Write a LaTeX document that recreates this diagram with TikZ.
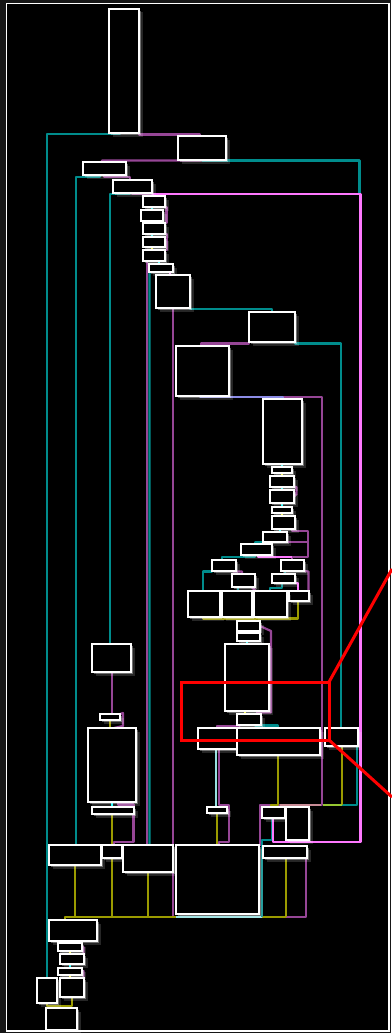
\documentclass[tikz,border=0pt]{standalone}
\usetikzlibrary{shadows}
\pgfdeclarelayer{back}\pgfdeclarelayer{edges}\pgfdeclarelayer{front}
\pgfsetlayers{back,edges,main,front}
\definecolor{cOut}{RGB}{22,22,22}
\definecolor{cTeal}{RGB}{0,140,140}
\definecolor{cPurp}{RGB}{150,70,150}
\definecolor{cPink}{RGB}{255,120,255}
\definecolor{cYel}{RGB}{155,155,0}
\definecolor{cLav}{RGB}{140,140,230}
\definecolor{cCy}{RGB}{0,255,255}
\definecolor{cYd}{RGB}{255,255,0}
\definecolor{cGrn}{RGB}{150,200,50}
\definecolor{cLcy}{RGB}{150,225,225}
\definecolor{cRose}{RGB}{200,140,150}
\tikzset{
  bx/.style={draw=white,line width=1.6pt,fill=black,inner sep=0pt,outer sep=0pt,
    drop shadow={shadow xshift=1.8pt,shadow yshift=-1.8pt,fill=white,opacity=0.35},
    drop shadow={shadow xshift=3.5pt,shadow yshift=-3.5pt,fill=white,opacity=0.15}},
  ed/.style={line width=2.2pt,line join=round},
  te/.style={ed,draw=cTeal},
  pu/.style={ed,draw=cPurp},
  pk/.style={ed,draw=cPink},
  ye/.style={ed,draw=cYel},
  lv/.style={ed,draw=cLav},
  cy/.style={ed,draw=cCy},
  yd/.style={ed,draw=cYd},
  gr/.style={ed,draw=cGrn},
  lc/.style={ed,draw=cLcy},
  ro/.style={ed,draw=cRose},
}
\newcommand\bx[5]{\node[bx,minimum width={(#4)-(#2)},minimum height={(#5)-(#3)}] (#1) at ({((#2)+(#4))/2},{((#3)+(#5))/2}) {};}
\begin{document}
\begin{tikzpicture}[x=1pt,y=-1pt]
\useasboundingbox (0,0) rectangle (391,1033);
\begin{pgfonlayer}{back}
\fill[cOut] (0,0) rectangle (391,1033);
\fill[black] (6.5,3.5) rectangle (389,1031);
\draw[white,line width=1.5pt] (6.5,3.5) rectangle (389,1031);
\end{pgfonlayer}
% boxes
\bx{A}{109}{9}{139}{133}
\bx{B}{178}{136}{226}{160}
\bx{C}{83}{162}{126}{175}
\bx{D}{113}{180}{152}{193}
\bx{E}{143}{196}{165}{207}
\bx{F}{141}{210}{163}{221}
\bx{G}{143}{223}{165}{234}
\bx{H}{143}{237}{165}{247}
\bx{I}{143}{250}{165}{261}
\bx{J}{149}{264}{173}{272}
\bx{K}{156}{275}{190}{308}
\bx{L}{249}{312}{295}{342}
\bx{M}{176}{346}{229}{396}
\bx{N}{263}{399}{302}{464}
\bx{O}{272}{467}{292}{473}
\bx{P}{270}{476}{294}{487}
\bx{Q}{270}{490}{294}{503}
\bx{R}{272}{507}{292}{513}
\bx{S}{272}{516}{295}{529}
\bx{T}{263}{532}{287}{542}
\bx{U}{241}{544}{272}{555}
\bx{V}{212}{560}{236}{571}
\bx{W}{281}{560}{304}{571}
\bx{X}{232}{574}{255}{587}
\bx{Y}{272}{574}{295}{583}
\bx{Z}{289}{591}{309}{601}
\bx{AA}{188}{591}{220}{617}
\bx{AB}{222}{591}{252}{617}
\bx{AC}{254}{591}{287}{617}
\bx{AD}{237}{621}{260}{631}
\bx{AE}{237}{633}{260}{641}
\bx{AF}{225}{644}{269}{711}
\bx{AG}{237}{714}{261}{725}
\bx{AH}{198}{728}{237}{749}
\bx{AI}{237}{728}{320}{755}
\bx{AJ}{325}{728}{358}{746}
\bx{AK}{92}{644}{131}{672}
\bx{AL}{100}{714}{120}{720}
\bx{AM}{88}{728}{136}{802}
\bx{AN}{92}{807}{134}{814}
\bx{AO}{207}{807}{227}{813}
\bx{AP}{262}{807}{285}{818}
\bx{AQ}{286}{807}{309}{840}
\bx{AR}{49}{845}{101}{865}
\bx{AS}{102}{845}{122}{858}
\bx{AT}{123}{845}{173}{872}
\bx{AU}{176}{845}{259}{914}
\bx{AV}{263}{846}{307}{858}
\bx{AW}{49}{920}{97}{941}
\bx{AX}{58}{943}{82}{951}
\bx{AY}{60}{954}{84}{964}
\bx{AZ}{58}{968}{82}{975}
\bx{BA}{60}{978}{84}{997}
\bx{BB}{37}{978}{57}{1003}
\bx{BC}{46}{1008}{77}{1030}
\begin{pgfonlayer}{edges}
% long teal edges
\draw[te] (A.south -| 120,0) -- (120,134) -- (47,134) -- (BB.north -| 47,0);
\draw[te] (B.south) -- (202,160.5) -- (359.5,160.5) -- (359.5,194);
\draw[te] (C.south -| 100,0) -- (100,177) -- (76,177) -- (AR.north -| 76,0);
\draw[te] (D.south -| 130,0) -- (130,194) -- (110,194) -- (AK.north -| 110,0);
\draw[te] (J.south -| 151,0) -- (149.5,272.5) -- (AT.north -| 149.5,0);
\draw[te] (K.south east) -- (190,309) -- (272,309) -- (L.north -| 272,0);
\draw[te] (L.south east) -- (295,343.5) -- (341,343.5) -- (AJ.north -| 341,0);
\draw[te] (T.south -| 266,0) -- (266,542.5) -- (255,542.5) -- (U.north -| 255,0);
\draw[te] (U.south -| 255,0) -- (255,557) -- (222,557) -- (V.north -| 222,0);
\draw[te] (V.south west) -- (212,571.5) -- (203,571.5) -- (AA.north -| 203,0);
\draw[te] (X.south -| 238,0) -- (AB.north -| 238,0);
\draw[te] (W.south -| 285,0) -- (Y.north -| 285,0);
\draw[te] (Y.south -| 282,0) -- (282,588) -- (270,588) -- (AC.north -| 270,0);
\draw[te] (AG.south -| 255,0) -- (255,725.5) -- (278,725.5) -- (AI.north -| 278,0);
\draw[te] (AJ.south -| 357,0) -- (357,805) -- (342,805);
\draw[te] (AP.south -| 272,0) -- (272,840) -- (262,840) -- (262,917);
% purple edges
\draw[pu] (A.south east) -- (139,134.5) -- (200,134.5) -- (B.north -| 200,0);
\draw[pu] (B.south) -- (200,160.5) -- (102,160.5) -- (C.north -| 102,0);
\draw[pu] (C.south -| 104,0) -- (104,177) -- (130,177) -- (D.north -| 130,0);
\draw[pu] (D.south -| 132,0) -- (132,194) -- (152,194) -- (E.north -| 152,0);
\draw[pu] (E.south east) -- (166.5,207) -- (166.5,223) -- (G.north east);
\draw[pu] (G.south east) -- (167,234) -- (167,250) -- (I.north east);
\draw[pu] (I.south -| 147,0) -- (AT.north -| 147,0);
\draw[pu] (K.south -| 173,0) -- (173,917);
\draw[pu] (L.south west) -- (249,343.5) -- (201,343.5) -- (M.north -| 201,0);
\draw[pu] (M.south -| 250,0) -- (250,397) -- (322,397) -- (322,805) -- (260,805) -- (AV.north -| 260,0);
\draw[pu] (P.south east) -- (296.5,487) -- (296.5,494) -- (Q.east);
\draw[pu] (S.south -| 292,0) -- (292,531) -- (308,531) -- (308,557) -- (292,557) -- (W.north -| 292,0);
\draw[pu] (T.south east) -- (287,542) -- (308,542);
\draw[pk] (U.south -| 258,0) -- (258,557) -- (292,557);
\draw[pu] (V.south east) -- (233,571.5) -- (242,571.5) -- (X.north -| 242,0);
\draw[pu] (X.south east) -- (252,587.5) -- (AC.north -| 256,0);
\draw[pu] (W.south east) -- (308.5,571.5) -- (Z.north -| 308.5,0);
\draw[pk] (Y.south east) -- (298,583) -- (Z.north -| 298,0);
\draw[pu] (AD.east) -- (271,631) -- (271,712.5) -- (257,712.5) -- (AG.north -| 257,0);
\draw[pu] (AG.south -| 240,0) -- (240,726) -- (217,726) -- (AH.north -| 217,0);
\draw[pu] (AH.south -| 219,0) -- (219,805) -- (229,805) -- (229,842) -- (219,842) -- (AU.north -| 219,0);
\draw[pu] (AK.south -| 112,0) -- (AL.north -| 112,0);
\draw[pu] (AL.north east) -- (123,713) -- (123,726) -- (AM.north -| 114,0);
\draw[pu] (AM.south -| 118,0) -- (118,804.5) -- (133.5,804.5) -- (133.5,842) -- (114,842) -- (AS.north -| 114,0);
\draw[pu] (AV.south -| 306,0) -- (306,917) -- (286,917);
\draw[pu] (AX.east) -- (83.5,947) -- (83.5,956) -- (AY.east);
\draw[pu] (AZ.east) -- (83.5,971) -- (83.5,977) -- (BA.north east);
% pink long back edge
\draw[pk] (D.south east) -- (152,194) -- (360.5,194) -- (360.5,842) -- (273,842) -- (AP.south -| 273,0);
\draw[pk] (J.south -| 170,0) -- (K.north -| 170,0);
% lavender / light cyan
\draw[lv] (M.south -| 200,0) -- (200,397) -- (283,397) -- (N.north -| 283,0);
\draw[lc] (AH.south -| 216,0) -- (AO.north -| 216,0);
% yellow edges
\draw[ye] (AA.south -| 203,0) -- (203,618.5) -- (298,618.5) -- (Z.south -| 298,0);
\draw[ye] (AD.north -| 247,0) -- (247,618.5);
\draw[ye] (AO.south -| 217,0) -- (AU.north -| 217,0);
\draw[ye] (AI.south -| 278,0) -- (278,805) -- (271,805) -- (AP.north -| 271,0);
\draw[ye] (AJ.south -| 342,0) -- (342,805);
\draw[gr] (342,805) -- (323,805);
\draw[ro] (321,805) -- (280,805);
\draw[ye] (AL.south -| 110,0) -- (AM.north -| 110,0);
\draw[ye] (AN.south -| 112,0) -- (AS.north -| 112,0);
\draw[ye] (AR.south -| 75,0) -- (75,917);
\draw[ye] (AS.south -| 112,0) -- (112,917);
\draw[ye] (AT.south -| 148,0) -- (148,917);
\draw[ye] (AV.south -| 286,0) -- (286,917);
\draw[ye] (286,917) -- (65,917) -- (AW.north -| 65,0);
\draw[lc] (262,917) -- (176,917);
\draw[te] (262,917) -- (262,900);
\draw[ye] (BB.south -| 47,0) -- (47,1006) -- (72,1006) -- (BA.south -| 72,0);
\draw[ye] (60,1006) -- (BC.north -| 60,0);
% short stacked edges
\draw[cy] (E.south -| 152,0) -- (F.north -| 152,0);
\draw[yd] (F.south -| 152,0) -- (G.north -| 152,0);
\draw[cy] (G.south -| 152,0) -- (H.north -| 152,0);
\draw[yd] (H.south -| 152,0) -- (I.north -| 152,0);
\draw[cy] (I.south -| 159,0) -- (J.north -| 159,0);
\draw[cy] (N.south -| 282,0) -- (O.north -| 282,0);
\draw[yd] (O.south -| 282,0) -- (P.north -| 282,0);
\draw[cy] (P.south -| 282,0) -- (Q.north -| 282,0);
\draw[cy] (Q.south -| 282,0) -- (R.north -| 282,0);
\draw[yd] (R.south -| 282,0) -- (S.north -| 282,0);
\draw[cy] (S.south -| 280,0) -- (T.north -| 280,0);
\draw[cy] (AE.south -| 247,0) -- (AF.north -| 247,0);
\draw[yd] (AF.south -| 245,0) -- (AG.north -| 245,0);
\draw[cy] (AM.south -| 112,0) -- (AN.north -| 112,0);
\draw[cy] (AW.south -| 70,0) -- (AX.north -| 70,0);
\draw[yd] (AX.south -| 70,0) -- (AY.north -| 70,0);
\draw[cy] (AY.south -| 70,0) -- (AZ.north -| 70,0);
\draw[yd] (AZ.south -| 70,0) -- (BA.north -| 70,0);
\end{pgfonlayer}
\begin{pgfonlayer}{front}
\draw[red,line width=3pt] (181,682) rectangle (329,740);
\draw[red,line width=3pt] (329,682) -- (392,569);
\draw[red,line width=3pt] (329,740) -- (392,797);
\end{pgfonlayer}
\end{tikzpicture}
\end{document}
